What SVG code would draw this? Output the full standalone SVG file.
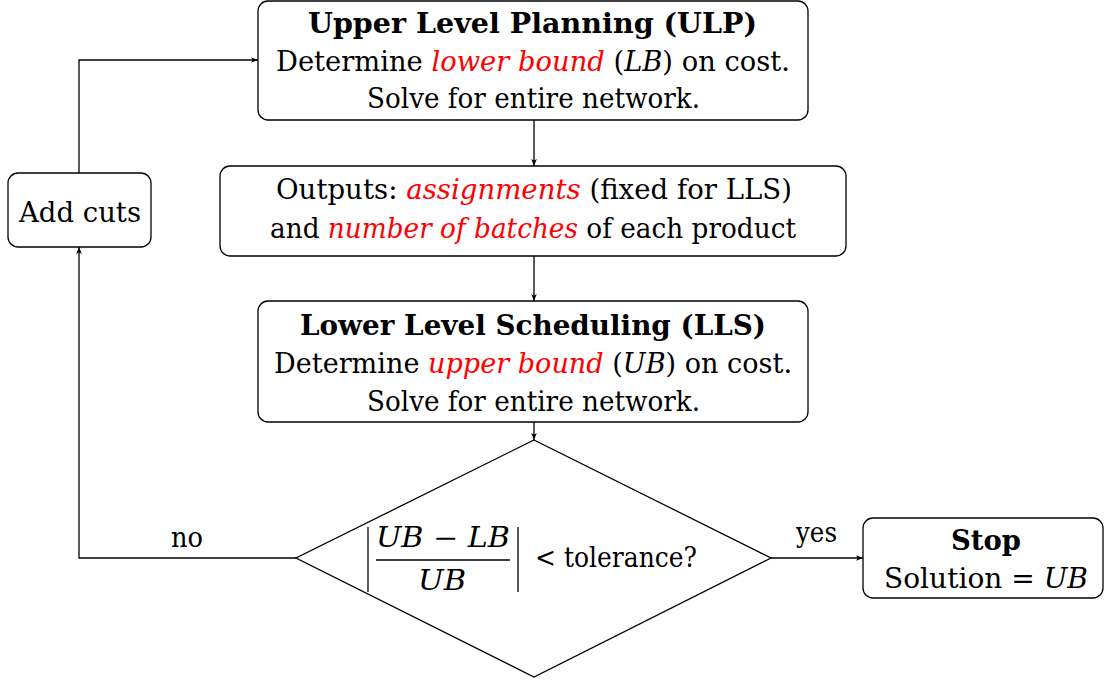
<svg xmlns="http://www.w3.org/2000/svg" width="1104" height="680" viewBox="0 0 1104 680">
<style>
.box{fill:#fff;stroke:#000;stroke-width:1.3}
.t{font-family:"DejaVu Serif","Liberation Serif",serif;font-size:27px;fill:#000;text-anchor:middle}
.b{font-weight:bold}
.r{fill:#ff0000;font-style:italic}
.i{font-style:italic}
.c{fill:none;stroke:#000;stroke-width:1.3}
</style>
<defs>
<marker id="ah" viewBox="0 0 10 8" refX="10" refY="4" markerWidth="7" markerHeight="6" markerUnits="userSpaceOnUse" orient="auto">
<path d="M0,0 L10,4 L0,8 L2.5,4 Z" fill="#000"/>
</marker>
</defs>
<rect width="1104" height="680" fill="#fff"/>
<g id="connectors">
<path class="c" d="M534,120 V166" marker-end="url(#ah)"/>
<path class="c" d="M534,256 V301" marker-end="url(#ah)"/>
<path class="c" d="M534,422 V440" marker-end="url(#ah)"/>
<path class="c" d="M771,558 H863" marker-end="url(#ah)"/>
<path class="c" d="M296,558 H79 V247" marker-end="url(#ah)"/>
<path class="c" d="M79,173 V60 H258" marker-end="url(#ah)"/>
<text class="t" x="816.5" y="542" textLength="41" lengthAdjust="spacingAndGlyphs">yes</text>
<text class="t" x="187" y="547" textLength="32" lengthAdjust="spacingAndGlyphs">no</text>
</g>
<g id="ulp">
<rect class="box" x="258" y="1" width="550" height="119" rx="10"/>
<text class="t b" x="532.5" y="33" textLength="449" lengthAdjust="spacingAndGlyphs">Upper Level Planning (ULP)</text>
<text class="t" x="533" y="71" textLength="514" lengthAdjust="spacingAndGlyphs">Determine <tspan class="r">lower bound</tspan> (<tspan class="i">LB</tspan>) on cost.</text>
<text class="t" x="533.5" y="108" textLength="333" lengthAdjust="spacingAndGlyphs">Solve for entire network.</text>
</g>
<g id="outputs">
<rect class="box" x="220" y="166" width="626" height="90" rx="10"/>
<text class="t" x="534" y="199" textLength="516" lengthAdjust="spacingAndGlyphs">Outputs:  <tspan class="r">assignments</tspan> (fixed for LLS)</text>
<text class="t" x="533" y="238" textLength="526" lengthAdjust="spacingAndGlyphs">and <tspan class="r">number of batches</tspan> of each product</text>
</g>
<g id="lls">
<rect class="box" x="258" y="301" width="550" height="121" rx="10"/>
<text class="t b" x="533" y="335" textLength="466" lengthAdjust="spacingAndGlyphs">Lower Level Scheduling (LLS)</text>
<text class="t" x="533" y="373" textLength="518" lengthAdjust="spacingAndGlyphs">Determine <tspan class="r">upper bound</tspan> (<tspan class="i">UB</tspan>) on cost.</text>
<text class="t" x="533.5" y="411" textLength="333" lengthAdjust="spacingAndGlyphs">Solve for entire network.</text>
</g>
<g id="decision">
<polygon class="box" points="534,440 771,558 534,677 296,558"/>
<path class="c" d="M368,527 V592 M518,527 V592 M376,560 H510"/>
<text class="t" x="443" y="547" textLength="134" lengthAdjust="spacingAndGlyphs"><tspan class="i">UB</tspan> − <tspan class="i">LB</tspan></text>
<text class="t i" x="442" y="590" textLength="48" lengthAdjust="spacingAndGlyphs">UB</text>
<text class="t" x="616" y="567" textLength="162" lengthAdjust="spacingAndGlyphs">&lt; tolerance?</text>
</g>
<g id="stop">
<rect class="box" x="863" y="518" width="240" height="80" rx="10"/>
<text class="t b" x="986" y="550" textLength="70" lengthAdjust="spacingAndGlyphs">Stop</text>
<text class="t" x="986" y="588" textLength="204" lengthAdjust="spacingAndGlyphs">Solution = <tspan class="i">UB</tspan></text>
</g>
<g id="addcuts">
<rect class="box" x="8" y="173" width="143" height="74" rx="10"/>
<text class="t" x="80" y="222" textLength="122" lengthAdjust="spacingAndGlyphs">Add cuts</text>
</g>
</svg>
